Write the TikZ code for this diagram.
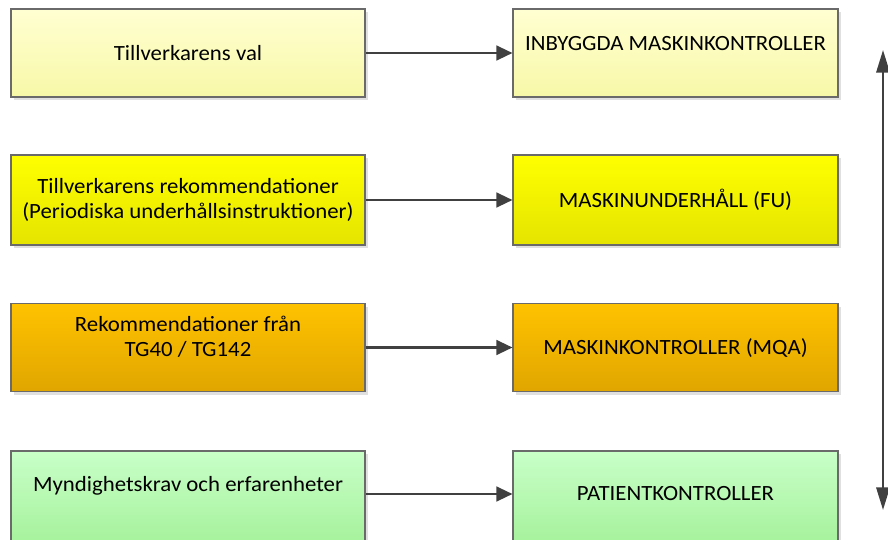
\documentclass[tikz,border=0pt]{standalone}
\usepackage{fontspec}
\setmainfont{Carlito}[FakeStretch=1.05]
\usetikzlibrary{arrows.meta,shadows}

\definecolor{edge}{HTML}{6A6A6A}
\definecolor{arrowgray}{HTML}{404040}
\definecolor{paleTop}{HTML}{FFFFD2}
\definecolor{paleBot}{HTML}{F8F8A8}
\definecolor{yelTop}{HTML}{FFFF00}
\definecolor{yelBot}{HTML}{E4E400}
\definecolor{ambTop}{HTML}{FFC200}
\definecolor{ambBot}{HTML}{E0A600}
\definecolor{grnTop}{HTML}{C8FFC8}
\definecolor{grnBot}{HTML}{A6F29C}

\tikzset{
  box/.style={draw=edge, line width=0.8pt, rectangle, inner sep=0pt,
    drop shadow={shadow xshift=2.5pt, shadow yshift=-2.5pt, fill=black!12, opacity=1}},
  leftbox/.style={box, minimum width=265.5pt, minimum height=66pt},
  rightbox/.style={box, minimum width=243.75pt, minimum height=66pt},
  pale/.style={top color=paleTop, bottom color=paleBot},
  yel/.style={top color=yelTop, bottom color=yelBot},
  amb/.style={top color=ambTop, bottom color=ambBot},
  grn/.style={top color=grnTop, bottom color=grnBot},
  txt/.style={font=\fontsize{16.3pt}{18.75pt}\selectfont, align=center, inner sep=0pt},
  flow/.style={draw=arrowgray, line width=1.7pt, -{Triangle[length=12pt, width=11pt]}},
  span/.style={draw=arrowgray, line width=1.7pt,
    {Triangle[length=17pt, width=10pt]}-{Triangle[length=17pt, width=10pt]}}
}

\begin{document}
\begin{tikzpicture}[x=0.75pt, y=-0.75pt]
  \useasboundingbox (0,0) rectangle (888,539);
  \clip (0,0) rectangle (888,539);

  % left column: sources of requirements
  \node[leftbox, pale] (l1) at (188,53) {};
  \node[leftbox, yel, minimum height=67.5pt] (l2) at (188,200) {};
  \node[leftbox, amb] (l3) at (188,347.5) {};
  \node[leftbox, grn, minimum height=69pt] (l4) at (188,497) {};

  % right column: resulting controls
  \node[rightbox, pale] (r1) at (675.5,53) {};
  \node[rightbox, yel, minimum height=67.5pt] (r2) at (675.5,200) {};
  \node[rightbox, amb] (r3) at (675.5,347.5) {};
  \node[rightbox, grn, minimum height=69pt] (r4) at (675.5,497) {};

  % labels
  \node[txt] (tl1) at (188,53) {Tillverkarens val};
  \node[txt] (tl2) at (188,200) {Tillverkarens rekommendationer\\(Periodiska underhållsinstruktioner)};
  \node[txt] (tl3) at (188,337) {Rekommendationer från\\TG40 / TG142};
  \node[txt] (tl4) at (188,486) {Myndighetskrav och erfarenheter};

  \node[txt] (tr1) at (675.5,44) {INBYGGDA MASKINKONTROLLER};
  \node[txt] (tr2) at (675.5,200) {MASKINUNDERHÅLL (FU)};
  \node[txt] (tr3) at (675.5,348) {MASKINKONTROLLER (MQA)};
  \node[txt] (tr4) at (675.5,494) {PATIENTKONTROLLER};

  % connectors
  \draw[flow] ([yshift=2.25pt]l4.east) -- ([yshift=2.25pt]r4.west);
  \draw[flow] (l1.east) -- (r1.west);
  \draw[flow] (l2.east) -- (r2.west);
  \draw[flow] (l3.east) -- (r3.west);

  % vertical span arrow
  \coordinate (top) at (883,50);
  \coordinate (bot) at (883,510);
  \draw[span] (top) -- (bot);
\end{tikzpicture}
\end{document}
